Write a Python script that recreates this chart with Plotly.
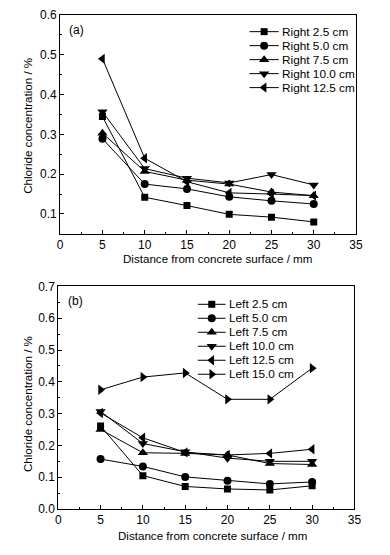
import plotly.graph_objects as go

# ---------------- data ----------------
distance = [5, 10, 15, 20, 25, 30]

right_names = ["Right 2.5 cm", "Right 5.0 cm", "Right 7.5 cm", "Right 10.0 cm", "Right 12.5 cm"]
right_2_5 = [0.345, 0.142, 0.121, 0.099, 0.092, 0.080]
right_5_0 = [0.289, 0.175, 0.163, 0.143, 0.133, 0.125]
right_7_5 = [0.303, 0.207, 0.185, 0.175, 0.155, 0.146]
right_10_0 = [0.357, 0.214, 0.190, 0.178, 0.199, 0.173]
right_12_5 = [0.490, 0.240, 0.181, 0.153, 0.150, 0.146]
right_series = [right_2_5, right_5_0, right_7_5, right_10_0, right_12_5]

left_names = ["Left 2.5 cm", "Left 5.0 cm", "Left 7.5 cm", "Left 10.0 cm", "Left 12.5 cm", "Left 15.0 cm"]
left_2_5 = [0.261, 0.105, 0.071, 0.063, 0.060, 0.073]
left_5_0 = [0.157, 0.134, 0.101, 0.089, 0.079, 0.085]
left_7_5 = [0.250, 0.177, 0.175, 0.170, 0.143, 0.140]
left_10_0 = [0.307, 0.206, 0.180, 0.160, 0.150, 0.150]
left_12_5 = [0.302, 0.224, 0.178, 0.170, 0.175, 0.188]
left_15_0 = [0.375, 0.415, 0.428, 0.345, 0.345, 0.443]
left_series = [left_2_5, left_5_0, left_7_5, left_10_0, left_12_5, left_15_0]

symbols = ["square", "circle", "triangle-up", "triangle-down", "triangle-left", "triangle-right"]
sizes = [7, 8, 9, 9, 9, 9]

# ---------------- layout constants ----------------
W, H = 390, 555
FONT = "Liberation Sans, Arial, sans-serif"

def px_x(p):
    return p / W

def px_y(p):
    return 1 - p / H

fig = go.Figure()

for name, ys, sym, sz in zip(right_names, right_series, symbols, sizes):
    fig.add_trace(go.Scatter(x=distance, y=ys, name=name, mode="lines+markers",
                             line=dict(color="black", width=1),
                             marker=dict(symbol=sym, size=sz, color="black"),
                             xaxis="x", yaxis="y", showlegend=False))

for name, ys, sym, sz in zip(left_names, left_series, symbols, sizes):
    fig.add_trace(go.Scatter(x=distance, y=ys, name=name, mode="lines+markers",
                             line=dict(color="black", width=1),
                             marker=dict(symbol=sym, size=sz, color="black"),
                             xaxis="x2", yaxis="y2", showlegend=False))

# ---------------- manual legends (on a hidden full-figure pixel axis) ----------------
annotations = []

def add_legend(names, x_line0, x_line1, y0, step):
    for i, name in enumerate(names):
        yy = y0 + i * step
        fig.add_trace(go.Scatter(x=[x_line0, x_line1], y=[yy, yy], mode="lines",
                                 line=dict(color="black", width=1),
                                 xaxis="x3", yaxis="y3", showlegend=False, hoverinfo="skip"))
        fig.add_trace(go.Scatter(x=[(x_line0 + x_line1) / 2], y=[yy], mode="markers",
                                 marker=dict(symbol=symbols[i], size=sizes[i], color="black"),
                                 xaxis="x3", yaxis="y3", showlegend=False, hoverinfo="skip"))
        annotations.append(dict(x=px_x(x_line1 + 1.5), y=px_y(yy), xref="paper", yref="paper",
                                text=name, showarrow=False, xanchor="left", yanchor="middle",
                                font=dict(family=FONT, size=11.8, color="black")))

add_legend(right_names, 253, 283, 25.3, 14.35)
add_legend(left_names, 200, 228.5, 305, 14.35)

# panel labels
annotations.append(dict(x=px_x(66), y=px_y(24), xref="paper", yref="paper", text="(a)",
                        showarrow=False, xanchor="left", yanchor="middle",
                        font=dict(family=FONT, size=12, color="black")))
annotations.append(dict(x=px_x(65), y=px_y(302), xref="paper", yref="paper", text="(b)",
                        showarrow=False, xanchor="left", yanchor="middle",
                        font=dict(family=FONT, size=12, color="black")))

# axis titles
for xc, yc in [(220, 258), (215, 542)]:
    annotations.append(dict(x=px_x(xc), y=px_y(yc), xref="paper", yref="paper",
                            text="Distance from concrete surface / mm", showarrow=False,
                            xanchor="center", yanchor="middle",
                            font=dict(family=FONT, size=11.6, color="black")))
for xc, yc in [(25, 121.5), (25, 407)]:
    annotations.append(dict(x=px_x(xc), y=px_y(yc), xref="paper", yref="paper",
                            text="Chloride concentration / %", showarrow=False, textangle=-90,
                            xanchor="center", yanchor="middle",
                            font=dict(family=FONT, size=11.6, color="black")))

axis_common = dict(showline=True, linecolor="black", linewidth=1, mirror=True,
                   ticks="inside", ticklen=4, tickcolor="black", showgrid=False, zeroline=False,
                   tickfont=dict(family=FONT, size=12, color="black"))

fig.update_layout(
    width=W, height=H,
    margin=dict(l=0, r=0, t=0, b=0),
    paper_bgcolor="white", plot_bgcolor="rgba(0,0,0,0)",
    showlegend=False,
    xaxis=dict(domain=[px_x(58.7), px_x(362.3)], anchor="y", range=[0, 35], tick0=0, dtick=5,
               minor=dict(ticks="inside", dtick=2.5, ticklen=2, tickcolor="black"), **axis_common),
    yaxis=dict(domain=[px_y(232.7), px_y(8.3)], anchor="x", range=[0.05, 0.6], tick0=0, dtick=0.1,
               tickformat=".1f",
               minor=dict(ticks="inside", dtick=0.05, ticklen=2, tickcolor="black"), **axis_common),
    xaxis2=dict(domain=[px_x(56.7), px_x(360.7)], anchor="y2", range=[0, 35], tick0=0, dtick=5,
                minor=dict(ticks="inside", dtick=2.5, ticklen=2, tickcolor="black"), **axis_common),
    yaxis2=dict(domain=[px_y(515), px_y(286.7)], anchor="x2", range=[0, 0.7], tick0=0, dtick=0.1,
                tickformat=".1f",
                minor=dict(ticks="inside", dtick=0.05, ticklen=2, tickcolor="black"), **axis_common),
    xaxis3=dict(domain=[0, 1], anchor="y3", range=[0, W], visible=False, fixedrange=True),
    yaxis3=dict(domain=[0, 1], anchor="x3", range=[H, 0], visible=False, fixedrange=True),
    annotations=annotations,
)

fig.write_html("out.html", post_script="document.body.style.margin='0';",
               config={"displayModeBar": False})
